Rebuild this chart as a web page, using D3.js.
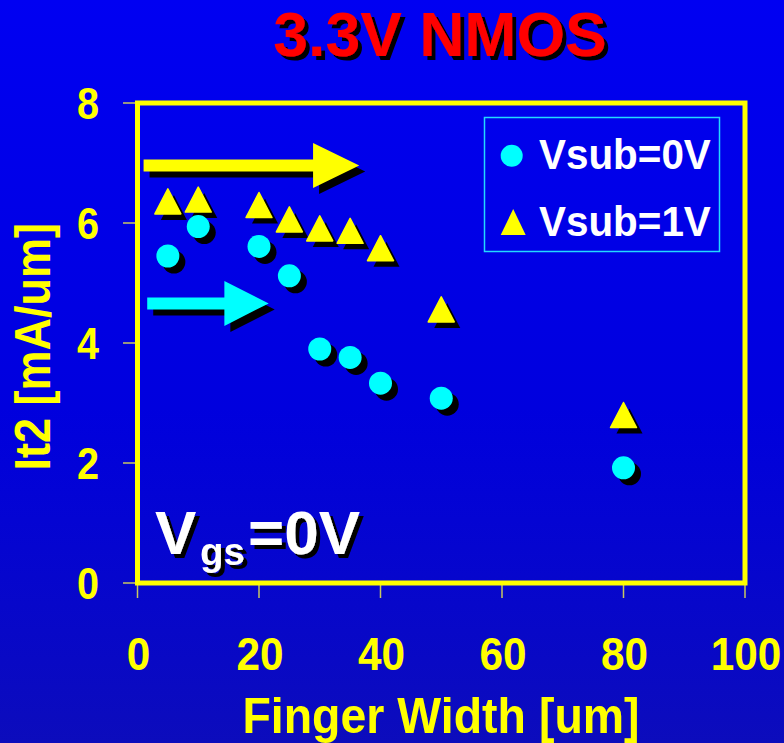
<!DOCTYPE html>
<html>
<head>
<meta charset="utf-8">
<script src="https://cdn.jsdelivr.net/npm/d3@7"></script>
<style>
  html, body { margin: 0; padding: 0; background: #0000e0; }
  svg { display: block; }
  text { font-family: "Liberation Sans", Arial, Helvetica, sans-serif; font-weight: bold; }
</style>
</head>
<body>
<script>
// ---------------- data ----------------
const fingerWidth = [5, 10, 20, 25, 30, 35, 40, 50, 80];
const it2Vsub0 = [5.45, 5.94, 5.61, 5.12, 3.90, 3.76, 3.33, 3.08, 1.92];
const it2Vsub1 = [6.36, 6.39, 6.30, 6.06, 5.91, 5.87, 5.58, 4.56, 2.80];
const xTicks = [0, 20, 40, 60, 80, 100];
const yTicks = [0, 2, 4, 6, 8];
const seriesNames = ["Vsub=0V", "Vsub=1V"];
// arrows (data coordinates): [shaft start x, head start x, tip x, level y]
const arrowYellow = [1.0, 28.9, 36.5, 6.96];
const arrowCyan = [1.6, 14.3, 21.6, 4.66];
const titleText = "3.3V NMOS";
const xLabel = "Finger Width [um]";
const yLabel = "It2 [mA/um]";

// ---------------- layout ----------------
const W = 784, H = 743;
const x = d3.scaleLinear().domain([0, 100]).range([137.5, 745]);
const y = d3.scaleLinear().domain([0, 8]).range([583, 103]);
const YEL = "#ffff00", CYAN = "#00ffff", SHADOW = "#000000";

const svg = d3.select("body").append("svg").attr("width", W).attr("height", H);
const defs = svg.append("defs");
const grad = defs.append("linearGradient").attr("id", "bg").attr("x1", 0).attr("y1", 0).attr("x2", 0).attr("y2", 1);
grad.append("stop").attr("offset", "0%").attr("stop-color", "#0000f2");
grad.append("stop").attr("offset", "55%").attr("stop-color", "#0000de");
grad.append("stop").attr("offset", "100%").attr("stop-color", "#0c0cbc");
svg.append("rect").attr("width", W).attr("height", H).attr("fill", "url(#bg)");

// drop-shadow filter for texts
const f = defs.append("filter").attr("id", "tshadow").attr("x", "-10%").attr("y", "-10%").attr("width", "130%").attr("height", "140%");
f.append("feOffset").attr("in", "SourceAlpha").attr("dx", 3.5).attr("dy", 3.5).attr("result", "off");
f.append("feFlood").attr("flood-color", "#000").attr("result", "blk");
f.append("feComposite").attr("in", "blk").attr("in2", "off").attr("operator", "in").attr("result", "sh");
const fm = f.append("feMerge");
fm.append("feMergeNode").attr("in", "sh");
fm.append("feMergeNode").attr("in", "SourceGraphic");

// text helper with per-axis stretch
function label(g, o) {
  let tr = `translate(${o.x},${o.y})`;
  if (o.rotate) tr += ` rotate(${o.rotate})`;
  tr += ` scale(${o.sx || 1},1)`;
  const t = g.append("text").attr("transform", tr)
    .attr("text-anchor", o.anchor || "start")
    .attr("font-size", o.size).attr("fill", o.fill).text(o.text);
  if (o.shadow) t.attr("filter", "url(#tshadow)");
  return t;
}

// ---------------- title ----------------
label(svg, { text: titleText, x: 440, y: 56, size: 62.5, sx: 1.0, anchor: "middle", fill: "#ff0000", shadow: true });

// ---------------- axes ticks ----------------
const axisG = svg.append("g");
axisG.selectAll("line.yt").data(yTicks).join("line")
  .attr("x1", 123).attr("x2", x(0)).attr("y1", d => y(d)).attr("y2", d => y(d))
  .attr("stroke", "#c8c860").attr("stroke-width", 1.5);
axisG.selectAll("line.xt").data(xTicks).join("line")
  .attr("x1", d => x(d)).attr("x2", d => x(d)).attr("y1", y(0)).attr("y2", 598)
  .attr("stroke", "#c8c860").attr("stroke-width", 1.5);

yTicks.forEach(t => label(axisG, { text: String(t), x: 99, y: y(t) + 16, size: 44, sx: 0.9, anchor: "end", fill: YEL }));
xTicks.forEach(t => label(axisG, { text: String(t), x: x(t) + 1, y: 670, size: 46, sx: 0.92, anchor: "middle", fill: YEL }));

label(svg, { text: xLabel, x: 441, y: 733, size: 50, sx: 0.93, anchor: "middle", fill: YEL });
label(svg, { text: yLabel, x: 50, y: 346.7, size: 50, sx: 0.9, anchor: "middle", fill: YEL, rotate: -90 });

// ---------------- frame ----------------
svg.append("rect")
  .attr("x", x(0)).attr("y", y(8)).attr("width", x(100) - x(0)).attr("height", y(0) - y(8))
  .attr("fill", "none").attr("stroke", YEL).attr("stroke-width", 5);

// ---------------- arrows ----------------
function arrowPath(a, shaftH, headH) {
  const [x0, xh, xt, ly] = a;
  const X0 = x(x0), XH = x(xh), XT = x(xt), Y = y(ly);
  return `M${X0},${Y - shaftH / 2} L${XH},${Y - shaftH / 2} L${XH},${Y - headH / 2} L${XT},${Y} ` +
    `L${XH},${Y + headH / 2} L${XH},${Y + shaftH / 2} L${X0},${Y + shaftH / 2} Z`;
}
const arrowsG = svg.append("g");
[[arrowYellow, YEL], [arrowCyan, CYAN]].forEach(([a, c]) => {
  const d = arrowPath(a, 12, 45);
  arrowsG.append("path").attr("d", d).attr("fill", SHADOW).attr("transform", "translate(6,6)");
  arrowsG.append("path").attr("d", d).attr("fill", c);
});

// ---------------- markers ----------------
const triPath = (cx, cy, w, h) => `M${cx},${cy - h / 2} L${cx + w / 2},${cy + h / 2} L${cx - w / 2},${cy + h / 2} Z`;
const pts0 = fingerWidth.map((f, i) => ({ f, v: it2Vsub0[i] }));
const pts1 = fingerWidth.map((f, i) => ({ f, v: it2Vsub1[i] }));
const mk = svg.append("g");
// shadows
mk.selectAll("path.ts").data(pts1).join("path")
  .attr("d", d => triPath(x(d.f) + 6, y(d.v) + 6, 26, 25)).attr("fill", SHADOW);
mk.selectAll("circle.cs").data(pts0).join("circle")
  .attr("cx", d => x(d.f) + 6).attr("cy", d => y(d.v) + 6).attr("r", 11.5).attr("fill", SHADOW);
// marks
mk.selectAll("path.t").data(pts1).join("path")
  .attr("d", d => triPath(x(d.f), y(d.v), 26, 25)).attr("fill", YEL)
  .attr("stroke", YEL).attr("stroke-width", 1.5).attr("stroke-linejoin", "round");
mk.selectAll("circle.c").data(pts0).join("circle")
  .attr("cx", d => x(d.f)).attr("cy", d => y(d.v)).attr("r", 11.5).attr("fill", CYAN);

// ---------------- legend ----------------
const lg = svg.append("g");
lg.append("rect").attr("x", 484.5).attr("y", 117.5).attr("width", 235).attr("height", 134)
  .attr("fill", "none").attr("stroke", "#22d8ff").attr("stroke-width", 1.5);
lg.append("circle").attr("cx", 511.7).attr("cy", 155.7).attr("r", 11).attr("fill", CYAN);
lg.append("path").attr("d", triPath(513.2, 222, 25, 26)).attr("fill", YEL);
label(lg, { text: seriesNames[0], x: 539, y: 169.3, size: 43, sx: 0.94, fill: "#ffffff" });
label(lg, { text: seriesNames[1], x: 539, y: 236, size: 43, sx: 0.94, fill: "#ffffff" });

// ---------------- Vgs annotation ----------------
const vt = svg.append("text").attr("fill", "#ffffff").attr("filter", "url(#tshadow)");
vt.append("tspan").attr("x", 155).attr("y", 554).attr("font-size", 62).text("V");
vt.append("tspan").attr("x", 200).attr("y", 565).attr("font-size", 38.5).text("gs");
vt.append("tspan").attr("x", 248).attr("y", 554).attr("font-size", 62).text("=0V");
</script>
</body>
</html>
